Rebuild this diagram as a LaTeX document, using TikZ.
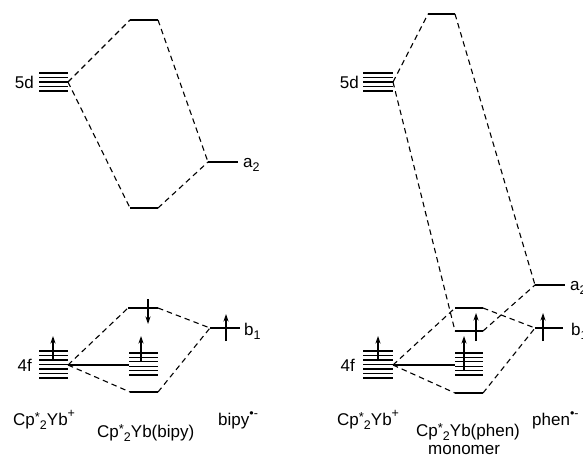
\documentclass[tikz,border=0pt]{standalone}
\usepackage{fontspec}
\setmainfont{Liberation Sans}
\usetikzlibrary{arrows.meta}
% chemical sub/superscripts in text font
\newcommand\lsub[1]{\raisebox{-0.45ex}{\fontsize{12.5}{13}\selectfont #1}}
\newcommand\lsup[1]{\raisebox{0.85ex}{\fontsize{12.5}{13}\selectfont #1}}
\newcommand\lstar{\raisebox{0.35ex}{\fontsize{13}{13}\selectfont *}}
\newcommand\cpyb{Cp\lstar\lsub{2}Yb}

\begin{document}
\begin{tikzpicture}[x=1pt,y=-1pt,
  level/.style={line width=1.3pt},
  corr/.style={line width=1.1pt, dash pattern=on 5.5pt off 4pt},
  link/.style={line width=1.1pt},
  spin/.style={line width=1.1pt, -{Stealth[length=7.5pt,width=5pt]}},
  lbl/.style={font=\fontsize{17}{19}\selectfont, inner sep=0pt}]
\useasboundingbox (0,0) rectangle (583,460);

% ---------- left: Cp*2Yb(bipy) ----------
% 5d set
\foreach \i in {0,...,4} \draw[level] (39,73+4.5*\i) -- (68,73+4.5*\i);
\coordinate (d5) at (68,82);
\node[lbl, anchor=east] (t5d) at (34,82) {5d};
% upper levels
\coordinate (uL) at (130,20);  \coordinate (uR) at (158,20);
\coordinate (lL) at (130,208); \coordinate (lR) at (158,208);
\coordinate (aL) at (208,162); \coordinate (aR) at (238,162);
\draw[level] (uL) -- (uR);
\draw[level] (lL) -- (lR);
\draw[level] (aL) -- (aR);
\node[lbl, anchor=west] (ta2) at (243,165) {a\lsub{2}};
\draw[corr] (d5) -- (uL);
\draw[corr] (d5) -- (lL);
\draw[corr] (uR) -- (aL);
\draw[corr] (lR) -- (aL);

% 4f set
\foreach \i in {0,...,6} \draw[level] (39,351+4.5*\i) -- (68,351+4.5*\i);
\coordinate (f4) at (68,365);
\coordinate (f4a) at (53,360); \coordinate (f4b) at (53,336);
\draw[spin] (f4a) -- (f4b);
\node[lbl, anchor=east] (t4f) at (32,365) {4f};
% non-bonding f set of the complex
\foreach \i in {0,...,5} \draw[level] (129,353+4.4*\i) -- (158,353+4.4*\i);
\coordinate (fm) at (129,365);
\coordinate (fma) at (141,362); \coordinate (fmb) at (141,336);
\draw[spin] (fma) -- (fmb);
\draw[link] (f4) -- (fm);
% f / b1 mixing
\coordinate (pL) at (128,308); \coordinate (pR) at (158,308);
\coordinate (qL) at (130,392); \coordinate (qR) at (158,392);
\coordinate (bL) at (210,328); \coordinate (bR) at (240,328);
\draw[level] (pL) -- (pR);
\draw[level] (qL) -- (qR);
\draw[level] (bL) -- (bR);
\coordinate (pa) at (148,299); \coordinate (pb) at (148,324);
\draw[spin] (pa) -- (pb);
\coordinate (ba) at (226,341); \coordinate (bb) at (226,314);
\draw[spin] (ba) -- (bb);
\node[lbl, anchor=west] (tb1) at (244,331) {b\lsub{1}};
\draw[corr] (f4) -- (pL);
\draw[corr] (f4) -- (qL);
\draw[corr] (pR) -- (bL);
\draw[corr] (qR) -- (bL);

% labels
\node[lbl, anchor=base west] (c1) at (13,425) {\cpyb\lsup{+}};
\node[lbl, anchor=base west] (c2) at (97,437) {\cpyb(bipy)};
\node[lbl, anchor=base west] (c3) at (218,425) {bipy\lsup{•-}};

% ---------- right: Cp*2Yb(phen) monomer ----------
\foreach \i in {0,...,4} \draw[level] (363,73+4.5*\i) -- (393,73+4.5*\i);
\coordinate (D5) at (393,82);
\node[lbl, anchor=east] (T5d) at (359,82) {5d};
\coordinate (UL) at (428,14);  \coordinate (UR) at (455,14);
\coordinate (AL) at (535,285); \coordinate (AR) at (565,285);
\coordinate (PL) at (455,308); \coordinate (PR) at (483,308);
\coordinate (RL) at (455,331); \coordinate (RR) at (483,331);
\coordinate (QL) at (455,393); \coordinate (QR) at (483,393);
\coordinate (BL) at (535,328); \coordinate (BR) at (563,328);
\draw[level] (UL) -- (UR);
\draw[level] (AL) -- (AR);
\draw[level] (PL) -- (PR);
\draw[level] (RL) -- (RR);
\draw[level] (QL) -- (QR);
\draw[level] (BL) -- (BR);
\node[lbl, anchor=west] (Ta2) at (570,288) {a\lsub{2}};
\node[lbl, anchor=west] (Tb1) at (571,331) {b\lsub{1}};
\coordinate (Ra) at (476,341); \coordinate (Rb) at (476,313);
\draw[spin] (Ra) -- (Rb);
\coordinate (Ba) at (543,341); \coordinate (Bb) at (543,313);
\draw[spin] (Ba) -- (Bb);

\foreach \i in {0,...,6} \draw[level] (363,351+4.5*\i) -- (393,351+4.5*\i);
\coordinate (F4) at (393,365);
\coordinate (F4a) at (378,361); \coordinate (F4b) at (378,336);
\draw[spin] (F4a) -- (F4b);
\node[lbl, anchor=east] (T4f) at (355,365) {4f};
\foreach \i in {0,...,5} \draw[level] (455,353+4.4*\i) -- (483,353+4.4*\i);
\coordinate (FM) at (455,365);
\coordinate (FMa) at (464,370); \coordinate (FMb) at (464,336);
\draw[spin] (FMa) -- (FMb);
\draw[link] (F4) -- (FM);

\draw[corr] (D5) -- (UL);
\draw[corr] (UR) -- (AL);
\draw[corr] (D5) -- (RL);
\draw[corr] (RR) -- (AL);
\draw[corr] (F4) -- (PL);
\draw[corr] (PR) -- (BL);
\draw[corr] (F4) -- (QL);
\draw[corr] (QR) -- (BL);

\node[lbl, anchor=base west] (C1) at (337,425) {\cpyb\lsup{+}};
\node[lbl, anchor=base west] (C2) at (416,436) {\cpyb(phen)};
\node[lbl, anchor=base west] (C3) at (428,454) {monomer};
\node[lbl, anchor=base west] (C4) at (532,425) {phen\lsup{•-}};
\end{tikzpicture}
\end{document}
